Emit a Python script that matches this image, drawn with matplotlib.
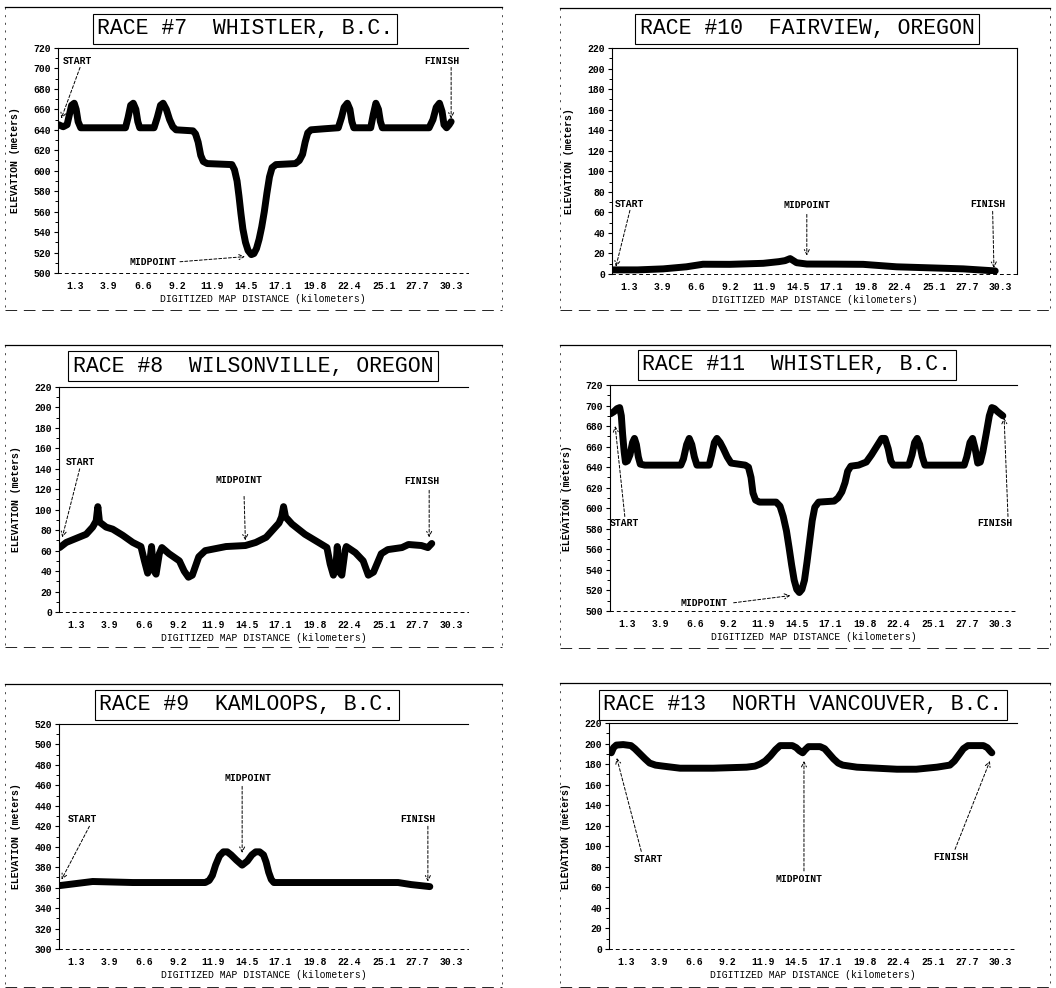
import matplotlib.pyplot as plt
from matplotlib.lines import Line2D

plt.rcParams['font.family'] = ['Liberation Mono', 'DejaVu Sans Mono']

# ---- data (km, metres) ----
x_ticks = [1.3, 3.9, 6.6, 9.2, 11.9, 14.5, 17.1, 19.8, 22.4, 25.1, 27.7, 30.3]

race7_km = [0.05, 0.4, 0.7, 0.9, 1.05, 1.25, 1.4, 1.55, 1.75, 5.2, 5.4, 5.6, 5.8, 6.0,
            6.15, 6.3, 7.4, 7.65, 7.9, 8.1, 8.35, 8.6, 8.85, 9.1, 10.4, 10.6, 10.8,
            11.0, 11.2, 11.5, 13.4, 13.6, 13.8, 13.95, 14.1, 14.25, 14.45, 14.65, 14.9,
            15.1, 15.3, 15.5, 15.7, 15.9, 16.1, 16.3, 16.5, 16.8, 18.3, 18.6, 18.85,
            19.05, 19.25, 19.5, 20.5, 21.6, 21.85, 22.05, 22.3, 22.5, 22.65, 22.8,
            24.1, 24.3, 24.5, 24.7, 24.85, 25.0, 28.6, 28.9, 29.15, 29.4, 29.6,
            29.75, 29.95, 30.15, 30.3]
race7_elev = [645, 643, 645, 656, 664, 666, 660, 648, 642, 642, 652, 664, 666, 660,
              648, 642, 642, 652, 664, 666, 660, 650, 643, 640, 639, 636, 628,
              615, 609, 607, 606, 601, 590, 575, 558, 543, 530, 522, 518,
              519, 524, 533, 545, 560, 578, 594, 603, 606, 607, 610, 616,
              628, 637, 640, 641, 642, 652, 662, 666, 660, 648, 642,
              642, 655, 666, 660, 648, 642, 642, 650, 662, 666, 658,
              645, 642, 645, 648]

race10_km = [0.1, 2.0, 4.0, 5.8, 7.1, 9.2, 11.8, 13.0, 13.5, 13.9, 14.4, 15.2,
             17.5, 19.6, 22.2, 24.8, 27.4, 29.9]
race10_elev = [4, 4, 5, 7, 9.5, 9.4, 10.4, 12, 13, 15, 11, 9.7,
               9.6, 9.4, 7, 6, 5, 3]

race8_km = [0.05, 0.56, 1.33, 2.1, 2.6, 2.87, 3.0, 3.13, 3.64, 4.15, 4.92, 5.7,
            6.33, 6.6, 6.85, 7.0, 7.15, 7.3, 7.5, 7.75, 7.95, 8.5, 9.3, 9.67,
            10.0, 10.3, 10.8, 11.3, 12.1, 12.9, 14.4, 15.2, 16.0, 16.5, 17.0, 17.2,
            17.35, 17.5, 18.0, 19.0, 20.05, 20.7, 20.95, 21.2, 21.4, 21.5, 21.6,
            21.85, 22.1, 22.2, 22.9, 23.5, 23.9, 24.3, 24.9, 25.4, 26.5, 27.0,
            28.0, 28.5, 28.8]
race8_elev = [63, 68, 72, 76, 83, 89, 103, 88, 83, 81, 75, 68,
              64, 50, 38, 47, 64, 41, 37, 57, 63, 57, 50, 40,
              34, 36, 54, 60, 62, 64, 65, 68, 73, 80, 87, 93,
              103, 93, 86, 76, 68, 63, 47, 36, 45, 64, 40,
              36, 60, 64, 58, 50, 36, 39, 57, 61, 63, 66,
              65, 63, 67]

race11_km = [0.05, 0.3, 0.55, 0.75, 0.88, 0.98, 1.1, 1.2, 1.35, 1.55, 1.75, 1.9, 2.05,
             2.2, 2.35, 2.7, 5.5, 5.7, 5.95, 6.15, 6.35, 6.55, 6.75, 7.7, 7.9, 8.1,
             8.3, 8.55, 8.8, 9.1, 9.4, 10.5, 10.75, 10.95, 11.1, 11.3, 11.6, 12.9,
             13.2, 13.45, 13.7, 13.9, 14.1, 14.3, 14.5, 14.7, 14.9, 15.1, 15.3, 15.5,
             15.7, 15.9, 16.2, 17.4, 17.7, 18.0, 18.25, 18.45, 18.7, 19.3, 19.9,
             20.3, 20.7, 21.1, 21.35, 21.6, 21.8, 22.0, 23.2, 23.45, 23.65, 23.85,
             24.05, 24.25, 24.45, 27.5, 27.7, 27.95, 28.15, 28.35, 28.55, 28.75,
             28.95, 29.2, 29.45, 29.65, 29.85, 30.1, 30.3, 30.5]
race11_elev = [692, 694, 697, 698, 690, 672, 655, 645, 646, 652, 664, 668, 662,
               650, 643, 642, 642, 648, 662, 668, 662, 650, 642, 642, 652, 664,
               668, 664, 658, 650, 644, 642, 640, 630, 615, 608, 606, 606,
               602, 592, 578, 562, 545, 530, 521, 518, 521, 530, 548, 568,
               588, 601, 606, 607, 610, 616, 625, 636, 641, 642, 645,
               652, 660, 668, 668, 658, 646, 642, 642, 652, 664, 668,
               662, 650, 642, 642, 650, 664, 668, 658, 644, 645,
               655, 672, 690, 698, 697, 694, 692, 690]

race9_km = [0.05, 2.6, 5.7, 11.3, 11.6, 11.85, 12.1, 12.4, 12.7, 13.0, 13.3, 13.7,
            14.15, 14.55, 14.9, 15.2, 15.5, 15.8, 16.0, 16.2, 16.4, 16.6, 26.2,
            27.2, 28.65]
race9_elev = [362, 366, 365, 365, 367, 372, 382, 391, 395, 395, 392, 387,
              382, 386, 392, 395, 395, 392, 385, 375, 368, 365, 365,
              363, 361]

race13_km = [0.18, 0.35, 0.57, 1.1, 1.7, 2.0, 2.4, 2.8, 3.15, 3.6, 4.2, 5.5, 8.07,
             10.65, 11.3, 11.7, 12.1, 12.5, 12.9, 13.25, 14.2, 14.5, 14.75, 15.0,
             15.2, 15.45, 16.35, 16.7, 17.05, 17.4, 17.75, 18.1, 19.2, 22.3, 23.8,
             25.4, 26.4, 26.75, 27.1, 27.45, 27.8, 29.0, 29.3, 29.5, 29.65]
race13_elev = [191, 196, 198.5, 199, 198, 195, 190, 185, 181, 179, 178, 176, 176,
               177, 178, 180, 183, 188, 194, 198, 198, 196, 193, 191,
               194, 197, 197, 195, 190, 185, 181, 179, 177, 175, 175,
               177, 179, 183, 189, 195, 198, 198, 196, 193, 191]

titles = ['RACE #7  WHISTLER, B.C.', 'RACE #10  FAIRVIEW, OREGON',
          'RACE #8  WILSONVILLE, OREGON', 'RACE #11  WHISTLER, B.C.',
          'RACE #9  KAMLOOPS, B.C.', 'RACE #13  NORTH VANCOUVER, B.C.']
y_ranges = [(500, 720), (0, 220), (0, 220), (500, 720), (300, 520), (0, 220)]
profiles = [(race7_km, race7_elev), (race10_km, race10_elev), (race8_km, race8_elev),
            (race11_km, race11_elev), (race9_km, race9_elev), (race13_km, race13_elev)]

# (label, text position, arrow start, arrow end, alignment)
notes = [
    [('START', (0.4, 707), (1.7, 701), (0.25, 651), 'left'),
     ('FINISH', (29.6, 707), (30.3, 701), (30.3, 651), 'center'),
     ('MIDPOINT', (7.3, 511), (9.4, 511), (14.4, 516), 'center')],
    [('START', (0.25, 68), (1.4, 62), (0.3, 7), 'left'),
     ('MIDPOINT', (15.2, 67), (15.2, 58), (15.2, 18), 'center'),
     ('FINISH', (29.3, 68), (29.7, 61), (29.8, 6), 'center')],
    [('START', (0.55, 147), (1.6, 140), (0.25, 73), 'left'),
     ('MIDPOINT', (13.9, 129), (14.3, 113), (14.4, 70), 'center'),
     ('FINISH', (28.0, 128), (28.6, 119), (28.6, 73), 'center')],
    [('START', (0.0, 586), (1.15, 592), (0.4, 680), 'left'),
     ('FINISH', (29.85, 586), (30.9, 592), (30.6, 688), 'center'),
     ('MIDPOINT', (7.3, 508), (9.6, 508), (14.0, 515), 'center')],
    [('START', (0.7, 427), (2.35, 420), (0.2, 368), 'left'),
     ('MIDPOINT', (14.6, 467), (14.15, 459), (14.15, 394), 'center'),
     ('FINISH', (27.75, 427), (28.5, 420), (28.5, 366), 'center')],
    [('START', (1.9, 88), (2.5, 95), (0.6, 186), 'left'),
     ('MIDPOINT', (14.75, 68), (15.1, 76), (15.1, 183), 'center'),
     ('FINISH', (26.5, 90), (26.8, 97), (29.5, 183), 'center')],
]

# ---- layout in pixels of a 1056 x 988 page ----
W, H = 1056, 988
axes_px = [(58, 48, 410, 225), (612, 48, 405, 226), (59, 387, 409, 225),
           (610, 385, 407, 226), (59, 724, 409, 225), (609, 723, 408, 226)]
title_px = [(245, 29), (807, 29), (253, 366), (797, 365), (247, 705), (803, 705)]
frames_px = [(5, 7, 502, 310), (560, 8, 1050, 310), (5, 345, 502, 647),
             (560, 345, 1050, 648), (5, 684, 502, 987), (560, 683, 1050, 987)]

fig = plt.figure(figsize=(W / 100, H / 100), dpi=100)

for i in range(6):
    left, top, w, h = axes_px[i]
    ax = fig.add_axes([left / W, 1 - (top + h) / H, w / W, h / H])
    km, elev = profiles[i]
    ax.plot(km, elev, color='black', lw=5, solid_capstyle='round',
            solid_joinstyle='round')
    lo, hi = y_ranges[i]
    ax.set_xlim(0, 31.6)
    ax.set_ylim(lo, hi)
    ax.set_yticks(range(lo, hi + 1, 20))
    ax.set_yticks(range(lo + 10, hi, 20), minor=True)
    ax.set_xticks(x_ticks)
    ax.set_xticklabels([f'{t:.1f}' for t in x_ticks])
    ax.tick_params(axis='x', length=0, pad=6, labelsize=7)
    ax.tick_params(axis='y', which='major', direction='out', length=3, width=0.8,
                   pad=2, labelsize=7)
    ax.tick_params(axis='y', which='minor', direction='out', length=2, width=0.7)
    for lab in ax.get_xticklabels() + ax.get_yticklabels():
        lab.set_fontweight('bold')

    ax.spines['right'].set_visible(i == 1)
    ax.spines['right'].set_linewidth(0.8)
    ax.spines['left'].set_linewidth(0.8)
    ax.spines['top'].set_linewidth(0.8)
    ax.spines['bottom'].set_linewidth(0.7)
    ax.spines['bottom'].set_linestyle((0, (3, 4)))

    ax.set_ylabel('ELEVATION (meters)', fontsize=7, fontweight='bold')
    ax.yaxis.set_label_coords(-0.093, 0.5)
    ax.set_xlabel('DIGITIZED MAP DISTANCE (kilometers)', fontsize=7)
    ax.xaxis.set_label_coords(0.5, -0.095)

    tx, ty = title_px[i]
    fig.text(tx / W, 1 - ty / H, titles[i], fontsize=15.5, ha='center', va='center',
             bbox=dict(boxstyle='square,pad=0.2', fc='white', ec='black', lw=0.8))

    for label, txt, start, end, ha in notes[i]:
        ax.text(txt[0], txt[1], label, fontsize=7, fontweight='bold', ha=ha,
                va='center')
        ax.annotate('', xy=end, xytext=start,
                    arrowprops=dict(arrowstyle='->,head_length=0.35,head_width=0.18',
                                    color='black', lw=0.7, linestyle=(0, (3, 2)),
                                    shrinkA=0, shrinkB=0))

    # faint scan frame around each panel
    x0, y0, x1, y1 = frames_px[i]
    fx0, fx1 = x0 / W, x1 / W
    fy0, fy1 = 1 - y0 / H, 1 - y1 / H
    fig.add_artist(Line2D([fx0, fx1], [fy0, fy0], color='black', lw=0.9))
    fig.add_artist(Line2D([fx0, fx1], [fy1, fy1], color='black', lw=0.6,
                          linestyle=(0, (14, 8))))
    for fx in (fx0, fx1):
        fig.add_artist(Line2D([fx, fx], [fy0, fy1], color='black', lw=0.5,
                              linestyle=(0, (3, 8))))

fig.savefig('out.png', dpi=100, facecolor='white')
